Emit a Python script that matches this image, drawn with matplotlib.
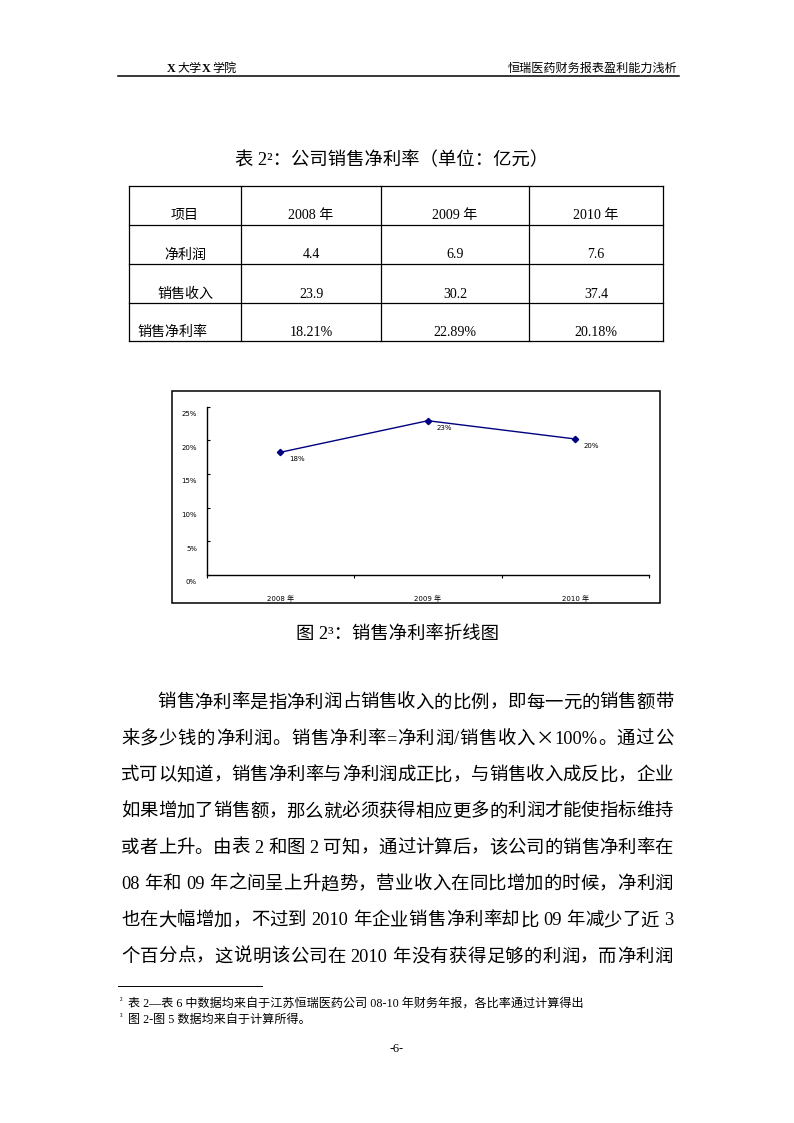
import re
import numpy as np
import matplotlib
matplotlib.use('Agg')
import matplotlib.pyplot as plt
from matplotlib.transforms import ScaledTranslation

# data
years = ['2008 年', '2009 年', '2010 年']
row_names = ['项目', '净利润', '销售收入', '销售净利率']
net_profit = [4.4, 6.9, 7.6]
sales = [23.9, 30.2, 37.4]
margin = [18.21, 22.89, 20.18]
yticks = [0, 5, 10, 15, 20, 25]

body_lines = [
    '销售净利率是指净利润占销售收入的比例，即每一元的销售额带',
    '来多少钱的净利润。销售净利率=净利润/销售收入×100%。通过公',
    '式可以知道，销售净利率与净利润成正比，与销售收入成反比，企业',
    '如果增加了销售额，那么就必须获得相应更多的利润才能使指标维持',
    '或者上升。由表 2 和图 2 可知，通过计算后，该公司的销售净利率在',
    '08 年和 09 年之间呈上升趋势，营业收入在同比增加的时候，净利润',
    '也在大幅增加，不过到 2010 年企业销售净利率却比 09 年减少了近 3',
    '个百分点，这说明该公司在 2010 年没有获得足够的利润，而净利润',
]
footnotes = [
    ('²', '表 2—表 6 中数据均来自于江苏恒瑞医药公司 08-10 年财务年报，各比率通过计算得出'),
    ('³', '图 2-图 5 数据均来自于计算所得。'),
]

SERIF = ['Liberation Serif', 'Noto Sans CJK SC']
CJK = ['Noto Sans CJK SC', 'DejaVu Sans']
SMALL = ['DejaVu Sans', 'Noto Sans CJK SC']

fig = plt.figure(figsize=(7.94, 11.23), dpi=100)
page = fig.add_axes([0, 0, 1, 1])
page.set_xlim(0, 794)
page.set_ylim(1123, 0)
page.axis('off')
renderer = fig.canvas.get_renderer()


def justify(s, x0, x1, y, fs):
    # spread tokens so the line fills x0..x1 like Word's justified text
    toks = []
    for m in re.finditer(r' ?([0-9A-Za-z.%\-]+|[^ ])', s):
        toks.append((m.group(0).startswith(' '), m.group(1)))
    texts, widths = [], []
    for sp, t in toks:
        fam = CJK if t == '×' else SERIF
        tx = page.text(0, y, t, fontsize=fs, family=fam, va='center', ha='left')
        texts.append(tx)
        widths.append(tx.get_window_extent(renderer).width)
    space = fs * 100 / 72 * 0.25
    fixed = sum(widths) + space * sum(sp for sp, _ in toks)
    gap = (x1 - x0 - fixed) / max(len(toks) - 1, 1)
    x = x0
    for i, ((sp, t), tx, w) in enumerate(zip(toks, texts, widths)):
        if sp and i > 0:
            x += space
        tx.set_x(x)
        x += w + gap


# header
hx = 167
for part in ['X', '大学', 'X', '学院']:
    bold = part == 'X'
    t = page.text(hx, 69, part, fontsize=8.7, family=SERIF, va='center',
                  fontweight='bold' if bold else 'normal')
    hx += t.get_window_extent(renderer).width + (2 if bold else 0)
page.text(677, 69, '恒瑞医药财务报表盈利能力浅析', fontsize=8.7, family=SERIF,
          va='center', ha='right')
page.plot([118, 679], [76, 76], color='black', lw=1.1)

# table title
page.text(392, 160, '表 2²：公司销售净利率（单位：亿元）', fontsize=13.2,
          family=SERIF, ha='center', va='center')

# table
tx0, tx1 = 129, 663
col_x = [tx0, 241, 381, 529, tx1]
row_y = [186, 225, 264, 303, 341]
for yy in row_y:
    page.plot([tx0, tx1], [yy, yy], color='black', lw=0.9)
for xx in col_x:
    page.plot([xx, xx], [row_y[0], row_y[-1]], color='black', lw=0.9)

cells = [years,
         [f'{v}' for v in net_profit],
         [f'{v}' for v in sales],
         [f'{v:.2f}%' for v in margin]]
first_x = [185, 185, 185, 137]
for r in range(4):
    yc = row_y[r + 1] - 9
    if r < 3:
        page.text(first_x[r], yc, row_names[r], fontsize=10.1, family=SERIF,
                  ha='center', va='center')
    else:
        page.text(first_x[r], yc, row_names[r], fontsize=10.1, family=SERIF,
                  ha='left', va='center')
    for c in range(3):
        xc = (col_x[c + 1] + col_x[c + 2]) / 2
        page.text(xc, yc, cells[r][c], fontsize=10.1, family=SERIF,
                  ha='center', va='center')

# chart frame
page.add_patch(plt.Rectangle((172, 391), 488, 212, fill=False, ec='black', lw=1.1))

# chart
px0, px1, py0, py1 = 206.7, 649, 406.5, 575
ax = fig.add_axes([px0 / 794, 1 - py1 / 1123, (px1 - px0) / 794, (py1 - py0) / 1123])
ax.patch.set_alpha(0)
xs = np.arange(len(years)) + 0.5
ax.plot(xs, margin, color='#000080', lw=1.0, marker='D', ms=3.2)
ax.set_xlim(0, len(years))
ax.set_ylim(0, 25)
for side in ['top', 'right']:
    ax.spines[side].set_visible(False)
for side in ['left', 'bottom']:
    ax.spines[side].set_linewidth(1.0)

ax.set_yticks(yticks)
ax.set_yticklabels([f'{v}%' for v in yticks], fontsize=5, family=SMALL)
ax.tick_params(axis='y', direction='in', length=2.5, width=0.8, pad=7)
for lab in ax.get_yticklabels():
    lab.set_transform(lab.get_transform() + ScaledTranslation(0, -0.07, fig.dpi_scale_trans))

ax.set_xticks(np.arange(len(years) + 1))
ax.set_xticklabels([])
ax.set_xticks(xs, minor=True)
ax.set_xticklabels(years, minor=True, fontsize=5, family=SMALL)
ax.tick_params(axis='x', which='major', direction='out', length=2.5, width=0.8)
ax.tick_params(axis='x', which='minor', length=0, pad=14)

for xi, v in zip(xs, margin):
    ax.annotate(f'{round(v)}%', (xi, v), xytext=(6.1, -5), textcoords='offset points',
                ha='left', va='center', fontsize=5, family=SMALL)

# caption
page.text(397, 634, '图 2³：销售净利率折线图', fontsize=13.2, family=SERIF,
          ha='center', va='center')

# body text
lx0, lx1 = 121, 673
line_y0, line_dy = 703, 36.3
for i, s in enumerate(body_lines):
    start = lx0 + 2 * 18.4 if i == 0 else lx0
    justify(s, start, lx1, line_y0 + i * line_dy, 13.25)

# footnotes
page.plot([118, 262], [986, 986], color='black', lw=0.7)
for i, (mark, txt) in enumerate(footnotes):
    yy = 1004 + i * 16
    page.text(120, yy - 3, mark, fontsize=6, family=SERIF, va='center')
    page.text(128, yy, txt, fontsize=8.7, family=SERIF, va='center')

page.text(397, 1049, '-6-', fontsize=8.7, family=SERIF, ha='center', va='center')

fig.savefig('out.png', dpi=100)
